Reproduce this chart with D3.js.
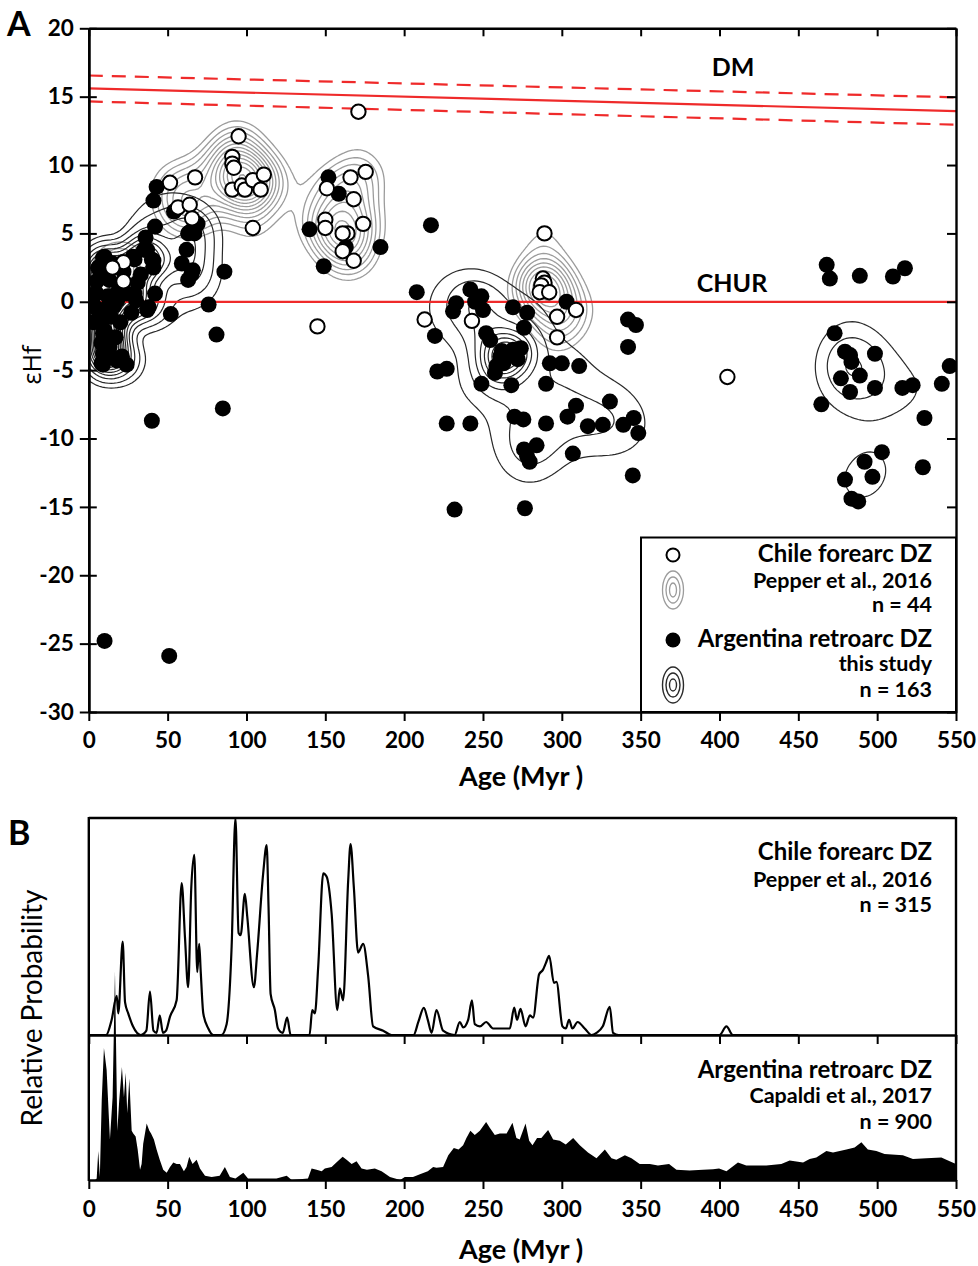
<!DOCTYPE html>
<html>
<head>
<meta charset="utf-8">
<script src="https://cdn.jsdelivr.net/npm/d3@7"></script>
<style>
  body { margin: 0; background: #fff; }
  text { font-family: Lato, "Open Sans", sans-serif; }
</style>
</head>
<body>
<svg id="chart" width="978" height="1266"></svg>
<script>
// ---- Panel A: zircon Hf isotopes, [age (Myr), εHf] ----
const chileZircons = [
  [51.5,8.7],[56.6,6.9],[64,7.1],[65.5,6.1],[67.4,9.1],[95,12.1],[91,10.6],[91,10.1],[92,9.8],[91,8.2],
  [97,8.5],[99,8.2],[104,8.9],[111,9.3],[109,8.2],[104,5.4],[145,-1.8],[151,8.3],[150,6.0],[150,5.4],
  [22,2.9],[15,2.5],[22,1.5],[171,13.9],[166,9.1],[175.6,9.5],[168,7.5],[174,5.7],[164,5.0],[161,5.0],
  [161,3.7],[168,3.0],[213,-1.3],[243,-1.4],[289,5.0],[288,1.7],[289,1.4],[287,1.2],[286,0.7],[292,0.7],
  [297,-1.1],[309,-0.6],[297,-2.6],[405,-5.5]
];
const argentinaZircons = [
  [9,3.2],[7,2.3],[5,0.6],[4,-0.4],[7,-1.3],[9,-2.3],[13,-3.3],[9,-3.8],[9,-4.6],[24,-4.6],
  [18,-4.3],[18,0.1],[24,0.6],[30,0.1],[37,-0.6],[42,0.6],[28,3.3],[35,3.8],[36,4.7],[41,3.0],
  [42,5.5],[41,7.4],[43,8.4],[54,6.6],[63,5.0],[67,5.0],[62,3.8],[59,2.8],[66,2.3],[63,1.6],
  [69,5.7],[86,2.2],[76,-0.2],[52,-0.9],[81,-2.4],[37,3.8],[40,3.1],[41,2.5],[29,3.1],[10,3.3],
  [6,2.5],[8,1.8],[12,0.4],[19,0.9],[29,0.6],[38,-0.4],[6,-0.6],[14,-1.1],[10,-2.1],[17,-2.6],
  [10,-3.5],[8,-4.5],[14,-4.0],[21,-4.0],[65,2.0],[64,5.1],[2,0.5],[3,-1.5],[15,2.8],[20,-1.5],
  [12,-2.8],[16,-0.3],[27,-0.8],[22,2.2],[33,2.0],[31,1.4],[5,1.5],[11,-0.5],[8,-3.0],[13,1.6],
  [40,-8.7],[85,-7.8],[10,-24.8],[51,-25.9],
  [152,9.1],[158.5,7.9],[140,5.3],[185,4.0],[149,2.6],[163,4.0],
  [217,5.6],[208,0.7],[233,-0.1],[231,-0.7],[242,0.9],[249,0.4],[250,-0.6],[245,0.0],[269,-0.4],[278,-0.8],
  [276,-1.9],[303,0.0],[219.5,-2.5],[252,-2.3],[254.6,-2.8],[221,-5.1],[227,-4.9],[261,-4.0],[265,-3.8],[269,-3.5],
  [274,-3.4],[272,-4.2],[262,-3.6],[258.5,-4.7],[263,-4.5],[257.6,-5.2],[268,-6.1],[249,-6.0],[292.4,-4.5],[300,-4.5],
  [311,-4.7],[290,-6.0],[309,-7.6],[303.6,-8.4],[330.5,-7.3],[270,-8.4],[275.6,-8.6],[290,-8.9],[316.5,-9.1],[326,-9.0],
  [339,-9.0],[345.6,-8.5],[348.5,-9.6],[276,-10.8],[284,-10.5],[279.6,-11.7],[278,-11.3],[307,-11.1],[345,-12.7],[227,-8.9],
  [242,-8.9],[232,-15.2],[276.6,-15.1],[342,-1.3],[347,-1.7],[342,-3.3],
  [468,2.7],[470,1.7],[489,1.9],[517.6,2.45],[510,1.85],[473,-2.3],[479.6,-3.65],[482.8,-3.9],[483.7,-4.4],[498.6,-3.8],
  [489,-5.4],[477,-5.6],[482.8,-6.6],[498.6,-6.3],[516,-6.3],[522.5,-6.1],[541,-6.0],[546,-4.7],[464.6,-7.5],[530,-8.5],
  [503,-11.0],[492,-11.7],[497,-12.8],[479.6,-13.0],[483.7,-14.4],[488,-14.6],[529,-12.1]
];

// Mantle reference curves (εHf at 0 and 550 Myr)
const refAges = [0, 550];
const dmCurve = [15.6, 13.95];
const dmUpper = [16.55, 14.95];
const dmLower = [14.65, 12.95];
const churCurve = [0, 0];

// ---- Panel B: relative probability, [age (Myr), relative height] ----
const chilePdp = [
  [0,0],[11,0],[14.5,0.07],[17.7,0.18],[18.7,0.10],[21.5,0.43],[23,0.15],[25,0.10],[28,0.04],[33,0],
  [36.5,0.02],[38.8,0.20],[41,0.02],[43,0.01],[45,0.09],[47,0.01],[49,0.02],[51.5,0.085],[55.7,0.16],[58.9,0.70],
  [61,0.45],[63,0.22],[65,0.68],[66.9,0.83],[68.8,0.29],[70,0.42],[71,0.29],[72.6,0.10],[75.8,0.03],[79,0],
  [84,0],[87.4,0.05],[90.6,0.41],[93,1.0],[95,0.47],[96.3,0.46],[99,0.65],[100.5,0.545],[104.7,0.22],[106.8,0.38],
  [110.6,0.745],[112.8,0.875],[114,0.59],[115.3,0.19],[118,0.115],[120,0.03],[123,0.01],[125.8,0.08],[128,0],[140,0],
  [141.7,0.115],[143.4,0.10],[145.5,0.315],[148.7,0.745],[150.8,0.73],[154,0.56],[157.6,0.115],[159.2,0.215],[161.3,0.16],[164.5,0.71],
  [166,0.88],[168.1,0.68],[170.8,0.38],[174,0.42],[177.2,0.27],[180.3,0.04],[186.7,0.02],[192,0],[206,0],[209,0.06],
  [212.5,0.125],[215,0.07],[217.4,0.01],[220.5,0.115],[224.7,0.02],[232,0],[235.3,0.06],[237.4,0.035],[240.6,0.07],[243,0.16],
  [244.8,0.05],[248,0.04],[252,0.06],[256.4,0.03],[267,0.03],[269.8,0.126],[271.6,0.07],[273.8,0.12],[277,0.04],[279.7,0.09],
  [281.8,0.08],[285.6,0.28],[288,0.30],[289.8,0.33],[292,0.365],[295,0.24],[296.6,0.245],[300.4,0.04],[302.5,0.03],[304.6,0.07],
  [306.7,0.03],[310,0.06],[314.5,0.03],[318.8,0],[322,0.01],[326,0.04],[330.4,0.13],[332.5,0.01],[336,0],[400,0],
  [404.4,0.04],[408.5,0],[450,0]
];
const argentinaPdp = [
  [0,0],[4,0],[5,0.01],[6,0.2],[7,0.02],[8.2,0.55],[9.6,0.91],[11.3,0.76],[13.4,0.28],[15.1,0.57],
  [16.6,1.44],[18.1,0.34],[19.3,0.55],[21,0.78],[22.3,0.57],[23.4,0.74],[24.4,0.46],[25.7,0.70],[27.2,0.34],[28.2,0.32],
  [29.7,0.30],[31,0.21],[32.5,0.07],[33.5,0.11],[34.5,0.25],[36.7,0.39],[38.4,0.34],[39.5,0.32],[41.3,0.28],[43,0.21],
  [45,0.14],[47.2,0.07],[49.4,0.05],[51.5,0.09],[53.6,0.12],[55.7,0.11],[57.8,0.11],[60.3,0.06],[62,0.09],[63.7,0.16],
  [65.8,0.11],[68.4,0.14],[70.5,0.08],[73.7,0.03],[77.9,0.02],[83,0.03],[86.3,0.09],[89.5,0.02],[93,0.01],[98,0.05],
  [101,0.01],[110.6,0.01],[119,0.01],[125.5,0.03],[128.7,0],[139,0.01],[141.3,0.08],[144.5,0.07],[147.7,0.06],[149.7,0.08],
  [154,0.09],[157,0.12],[161,0.16],[163.5,0.14],[166.7,0.11],[169.8,0.13],[173,0.08],[176.4,0.07],[181.4,0.08],[185.7,0.06],
  [191,0.02],[197.5,0],[200.4,0.02],[205.6,0.02],[210,0.04],[215,0.06],[218.4,0.09],[220.5,0.085],[224.7,0.09],[228,0.17],
  [231.5,0.22],[234.5,0.21],[237.4,0.24],[239.5,0.29],[242,0.34],[244.8,0.31],[248,0.34],[252,0.40],[254.3,0.36],[257.5,0.31],
  [260.7,0.32],[265,0.32],[268.7,0.395],[271.2,0.29],[273.3,0.28],[277,0.39],[279.3,0.27],[281.4,0.24],[284.3,0.29],[287,0.29],
  [291.3,0.345],[294.5,0.28],[298.7,0.27],[302.5,0.245],[307.2,0.29],[311.4,0.24],[316.6,0.19],[322,0.15],[327.3,0.21],[331.5,0.15],
  [334.6,0.14],[340,0.17],[344.2,0.15],[349.4,0.11],[355.8,0.11],[361,0.10],[368,0.11],[372.7,0.07],[381,0.065],[389.5,0.07],
  [395.9,0.075],[399.7,0.08],[404.4,0.06],[411.7,0.12],[417,0.10],[429.7,0.10],[439.2,0.11],[444.5,0.135],[453,0.12],[457.2,0.145],
  [461.4,0.155],[467.8,0.20],[472,0.19],[480.5,0.21],[485.7,0.225],[490,0.26],[494.1,0.21],[499.5,0.20],[504.7,0.18],[516.3,0.17],
  [522.7,0.145],[531.2,0.15],[540.7,0.155],[546,0.13],[550,0.11]
];

const ageTicks = d3.range(0, 551, 50);
const ehfTicks = d3.range(-30, 21, 5);

// ---- layout ----
const svg = d3.select("#chart");
const A = { left: 88.8, right: 956, top: 28.3, bottom: 712 };
const B = { left: 88.8, right: 956, top: 818, mid: 1035, bottom: 1180 };

const xA = d3.scaleLinear().domain([0, 550]).range([A.left, A.right]);
const yA = d3.scaleLinear().domain([-30, 20]).range([A.bottom, A.top]);
const xB = d3.scaleLinear().domain([0, 550]).range([B.left, B.right]);
const yChile = d3.scaleLinear().domain([0, 1]).range([B.mid, B.top]);
const yArg = d3.scaleLinear().domain([0, 1]).range([B.bottom, B.mid]);

const RED = "#ef2a2a";
const AXIS_W = 2.4;
const tickFont = 22.5;
const plainMinus = d => String(d);

function styleAxis(g, labels) {
  g.select(".domain").attr("stroke", "#000").attr("stroke-width", AXIS_W);
  g.selectAll(".tick line").attr("stroke", "#000").attr("stroke-width", 2);
  g.selectAll(".tick text")
    .attr("fill", "#000")
    .style("font-size", tickFont + "px")
    .style("font-weight", 700)
    .style("display", labels ? null : "none");
}

// ---- Panel A ----
svg.append("clipPath").attr("id", "clipA")
  .append("rect")
  .attr("x", A.left).attr("y", A.top)
  .attr("width", A.right - A.left).attr("height", A.bottom - A.top);

const plotA = svg.append("g").attr("clip-path", "url(#clipA)");

// Kernel density on a pixel grid; each grain gets its own Gaussian width
// (Abramson adaptive kernel: narrower where the pilot density is high).
const CELL = 3, PAD = 60;
function adaptiveDensity(points, h, alpha, lo, hi) {
  const w = A.right - A.left + 2 * PAD, hh = A.bottom - A.top + 2 * PAD;
  const P = points.map(d => [xA(d[0]) - A.left + PAD, yA(d[1]) - A.top + PAD]);
  const gauss = (d2, s) => Math.exp(-d2 / (2 * s * s)) / (2 * Math.PI * s * s);
  const pilot = P.map(p => d3.sum(P, q => gauss((p[0] - q[0]) ** 2 + (p[1] - q[1]) ** 2, h)));
  const gm = Math.exp(d3.mean(pilot, Math.log));
  const sig = pilot.map(f => h * Math.max(lo, Math.min(hi, Math.pow(f / gm, -alpha))));
  const nx = Math.ceil(w / CELL), ny = Math.ceil(hh / CELL);
  const values = new Float64Array(nx * ny);
  P.forEach((p, k) => {
    const s = sig[k], r = 3.5 * s, norm = 1 / (2 * Math.PI * s * s);
    const i0 = Math.max(0, Math.floor((p[0] - r) / CELL)), i1 = Math.min(nx - 1, Math.ceil((p[0] + r) / CELL));
    const j0 = Math.max(0, Math.floor((p[1] - r) / CELL)), j1 = Math.min(ny - 1, Math.ceil((p[1] + r) / CELL));
    for (let j = j0; j <= j1; j++) {
      const dy = (j + 0.5) * CELL - p[1];
      for (let i = i0; i <= i1; i++) {
        const dx = (i + 0.5) * CELL - p[0];
        values[j * nx + i] += norm * Math.exp(-(dx * dx + dy * dy) / (2 * s * s));
      }
    }
  });
  return { nx, ny, values };
}
const gridPath = d3.geoPath(
  d3.geoIdentity().scale(CELL).translate([A.left - PAD, A.top - PAD])
);
function drawDensity(points, h, alpha, lo, hi, levels, color, width) {
  const { nx, ny, values } = adaptiveDensity(points, h, alpha, lo, hi);
  plotA.append("g")
    .selectAll("path")
    .data(d3.contours().size([nx, ny]).thresholds(levels)(values))
    .join("path")
    .attr("d", gridPath)
    .attr("fill", "none")
    .attr("stroke", color)
    .attr("stroke-width", width);
}

const chileLevels = d3.range(20).map(k => 0.00045 + k * 0.00017);
const argLevels = [0.0007].concat(d3.range(30).map(k => 0.0012 + k * 0.0007));
drawDensity(chileZircons, 21, 0, 1, 1, chileLevels, "#9c9c9c", 1.3);
drawDensity(argentinaZircons, 22, 0.7, 0.35, 1.6, argLevels, "#2a2a2a", 1.2);

// reference evolution lines
const refLine = vals => d3.line()
  .x((d, i) => xA(refAges[i]))
  .y(d => yA(d))(vals);

plotA.append("path").attr("d", refLine(churCurve))
  .attr("stroke", RED).attr("stroke-width", 2.2).attr("fill", "none");
plotA.append("path").attr("d", refLine(dmCurve))
  .attr("stroke", RED).attr("stroke-width", 2.2).attr("fill", "none");
[dmUpper, dmLower].forEach(v => {
  plotA.append("path").attr("d", refLine(v))
    .attr("stroke", RED).attr("stroke-width", 2.2).attr("fill", "none")
    .attr("stroke-dasharray", "14,9");
});

// zircon analyses
plotA.append("g").selectAll("circle")
  .data(argentinaZircons).join("circle")
  .attr("cx", d => xA(d[0])).attr("cy", d => yA(d[1]))
  .attr("r", 8).attr("fill", "#000");

plotA.append("g").selectAll("circle")
  .data(chileZircons).join("circle")
  .attr("cx", d => xA(d[0])).attr("cy", d => yA(d[1]))
  .attr("r", 7.2).attr("fill", "#fff")
  .attr("stroke", "#000").attr("stroke-width", 2);

svg.append("text").attr("x", 733).attr("y", 76).attr("text-anchor", "middle")
  .style("font-size", "25px").style("font-weight", 700).text("DM");
svg.append("text").attr("x", 732).attr("y", 292).attr("text-anchor", "middle")
  .style("font-size", "25px").style("font-weight", 700).text("CHUR");

// axes / frame of panel A
svg.append("g").attr("transform", `translate(0,${A.bottom})`)
  .call(d3.axisBottom(xA).tickValues(ageTicks).tickSizeInner(9).tickSizeOuter(0).tickPadding(11))
  .call(g => styleAxis(g, true));
svg.append("g").attr("transform", `translate(0,${A.top})`)
  .call(d3.axisBottom(xA).tickValues(ageTicks).tickSizeInner(8).tickSizeOuter(0))
  .call(g => styleAxis(g, false));
svg.append("g").attr("transform", `translate(${A.left},0)`)
  .call(d3.axisLeft(yA).tickValues(ehfTicks).tickFormat(plainMinus)
    .tickSizeInner(9).tickSizeOuter(0).tickPadding(6))
  .call(g => styleAxis(g, true));
svg.append("g").attr("transform", `translate(${A.left},0)`)
  .call(d3.axisRight(yA).tickValues(ehfTicks).tickSizeInner(8).tickSizeOuter(0))
  .call(g => styleAxis(g, false));
svg.append("g").attr("transform", `translate(${A.right},0)`)
  .call(d3.axisLeft(yA).tickValues(ehfTicks).tickSizeInner(9).tickSizeOuter(0))
  .call(g => styleAxis(g, false));

svg.append("text").attr("x", 521).attr("y", 786).attr("text-anchor", "middle")
  .style("font-size", "27px").style("font-weight", 700).text("Age (Myr )");
svg.append("text")
  .attr("transform", "translate(41,365) rotate(-90)")
  .attr("text-anchor", "middle")
  .style("font-family", "'Open Sans', 'DejaVu Sans', sans-serif")
  .style("font-size", "25px").text("εHf");
svg.append("text").attr("x", 7).attr("y", 36)
  .style("font-size", "34px").style("font-weight", 700).text("A");

// legend
const leg = svg.append("g");
leg.append("rect").attr("x", 641).attr("y", 537.5)
  .attr("width", A.right - 641).attr("height", A.bottom - 537.5)
  .attr("fill", "#fff").attr("stroke", "#000").attr("stroke-width", 2);
leg.append("circle").attr("cx", 673).attr("cy", 555).attr("r", 6.5)
  .attr("fill", "#fff").attr("stroke", "#000").attr("stroke-width", 2);
leg.append("circle").attr("cx", 673).attr("cy", 640).attr("r", 7.5).attr("fill", "#000");
[[10.5, 19], [7, 13], [3.5, 7]].forEach(([rx, ry]) => {
  leg.append("ellipse").attr("cx", 673).attr("cy", 590).attr("rx", rx).attr("ry", ry)
    .attr("fill", "none").attr("stroke", "#9c9c9c").attr("stroke-width", 1.3);
  leg.append("ellipse").attr("cx", 673).attr("cy", 685).attr("rx", rx).attr("ry", ry - 1)
    .attr("fill", "none").attr("stroke", "#2a2a2a").attr("stroke-width", 1.4);
});
const legendRows = [
  ["Chile forearc DZ", 562, 24],
  ["Pepper et al., 2016", 588, 21.5],
  ["n = 44", 612, 21.5],
  ["Argentina retroarc DZ", 647, 24],
  ["this study", 671, 21.5],
  ["n = 163", 697, 21.5]
];
legendRows.forEach(([t, y, s]) => {
  leg.append("text").attr("x", 932).attr("y", y).attr("text-anchor", "end")
    .style("font-size", s + "px").style("font-weight", 700).text(t);
});

// ---- Panel B ----
svg.append("clipPath").attr("id", "clipB")
  .append("rect")
  .attr("x", B.left).attr("y", B.top - 40)
  .attr("width", B.right - B.left).attr("height", B.bottom - B.top + 40);

const plotB = svg.append("g").attr("clip-path", "url(#clipB)");

plotB.append("path")
  .datum(argentinaPdp)
  .attr("d", d3.area().x(d => xB(d[0])).y0(B.bottom).y1(d => yArg(d[1])))
  .attr("fill", "#000");

plotB.append("path")
  .datum(chilePdp)
  .attr("d", d3.line().x(d => xB(d[0])).y(d => yChile(d[1])).curve(d3.curveMonotoneX))
  .attr("fill", "none").attr("stroke", "#000").attr("stroke-width", 2.2)
  .attr("stroke-linejoin", "round");

// frame of panel B
svg.append("g").attr("transform", `translate(0,${B.bottom})`)
  .call(d3.axisBottom(xB).tickValues(ageTicks).tickSizeInner(9).tickSizeOuter(0).tickPadding(12))
  .call(g => styleAxis(g, true));
svg.append("g").attr("transform", `translate(0,${B.mid})`)
  .call(d3.axisBottom(xB).tickValues(ageTicks).tickSizeInner(9).tickSizeOuter(0))
  .call(g => styleAxis(g, false));
svg.append("line").attr("x1", B.left).attr("x2", B.right).attr("y1", B.top).attr("y2", B.top)
  .attr("stroke", "#000").attr("stroke-width", AXIS_W);
[B.left, B.right].forEach(x => {
  svg.append("line").attr("x1", x).attr("x2", x).attr("y1", B.top - 1).attr("y2", B.bottom + 1)
    .attr("stroke", "#000").attr("stroke-width", AXIS_W);
});

const pdpLabels = [
  ["Chile forearc DZ", 860, 24],
  ["Pepper et al., 2016", 887, 21.5],
  ["n = 315", 912, 21.5],
  ["Argentina retroarc DZ", 1078, 24],
  ["Capaldi et al., 2017", 1103, 21.5],
  ["n = 900", 1129, 21.5]
];
pdpLabels.forEach(([t, y, s]) => {
  svg.append("text").attr("x", 932).attr("y", y).attr("text-anchor", "end")
    .style("font-size", s + "px").style("font-weight", 700).text(t);
});

svg.append("text").attr("x", 521).attr("y", 1259).attr("text-anchor", "middle")
  .style("font-size", "27px").style("font-weight", 700).text("Age (Myr )");
svg.append("text")
  .attr("transform", "translate(42,1008) rotate(-90)")
  .attr("text-anchor", "middle")
  .style("font-size", "28px").text("Relative Probability");
svg.append("text").attr("x", 8).attr("y", 845)
  .style("font-size", "34px").style("font-weight", 700).text("B");
</script>
</body>
</html>
